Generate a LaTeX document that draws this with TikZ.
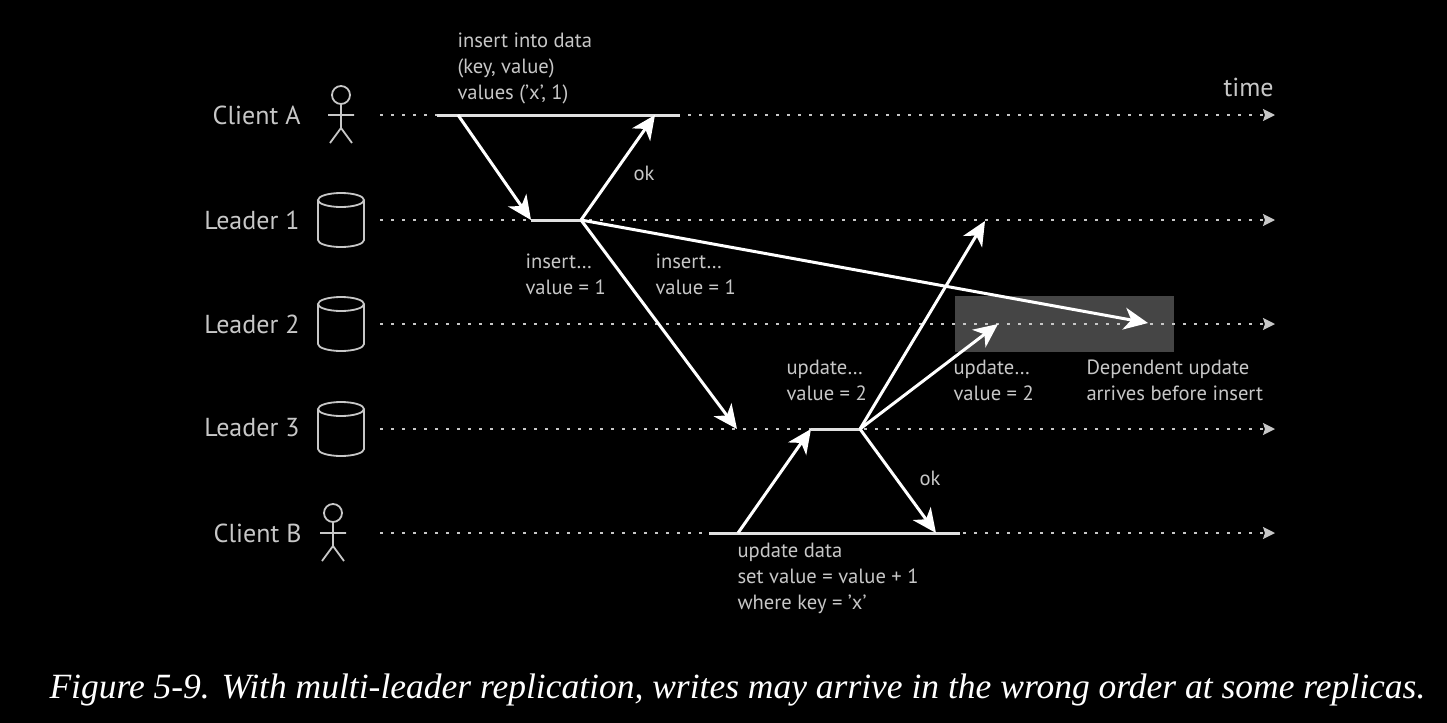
\documentclass[tikz,border=0pt]{standalone}
\usepackage{fontspec}
\setmainfont{PT Sans}
\newfontfamily\capfont{Liberation Serif}
\usetikzlibrary{arrows.meta}
\definecolor{inkgray}{gray}{0.78}
\definecolor{linegray}{gray}{0.88}
\definecolor{boxgray}{gray}{0.27}
\begin{document}
\begin{tikzpicture}[x=0.5pt,y=-0.5pt,line width=1.5pt,draw=linegray,
        >={Stealth[length=12pt,width=11pt,inset=3.5pt]},
        lbl/.style={text=inkgray,font=\fontsize{10.3}{13}\selectfont,anchor=west,inner sep=0pt,align=left},
        who/.style={text=inkgray,font=\fontsize{13}{15}\selectfont,anchor=east,inner sep=0pt},
        lane/.style={draw=inkgray,line width=0.9pt,dash pattern=on 1.5pt off 4pt,
          -{Stealth[length=6pt,width=6pt,inset=1pt]}},
        actor/.pic={
          \draw[inkgray,line width=0.9pt] (0,-20) circle [radius=9]
            (0,-11) -- (0,13) (-13,0) -- (13,0) (-11,28) -- (0,13) -- (11,28);
        },
        drum/.pic={
          \draw[inkgray,line width=0.9pt] (0,-20) ellipse [x radius=23,y radius=7]
            (-23,-20) -- (-23,20) arc [start angle=180,end angle=0,x radius=23,y radius=7] -- (23,-20);
        }]
      \path[fill=black] (0,0) rectangle (1447,723);
      \node [fill=boxgray,minimum width=109.5pt,minimum height=28pt,inner sep=0pt] (late) at (1064.5,324) {};
      \foreach \row/\ypos in {a/115,l1/220,l2/324,l3/429,b/533} {
        \coordinate (\row start) at (380,\ypos);
        \coordinate (\row end) at (1275,\ypos);
        \draw [lane] (\row start) -- (\row end);
      }
      \node [who] (clienta) at (302,115) {Client A};
      \node [who] (leader1) at (301,220) {Leader 1};
      \node [who] (leader2) at (301,324) {Leader 2};
      \node [who] (leader3) at (301,428) {Leader 3};
      \node [who] (clientb) at (303,533) {Client B};
      \pic at (341,115) {actor};
      \pic at (333,533) {actor};
      \pic at (341,220) {drum};
      \pic at (341,324) {drum};
      \pic at (341,429) {drum};
      \coordinate (a0) at (437,115);
      \coordinate (a1) at (458,115);
      \coordinate (a2) at (655,115);
      \coordinate (a3) at (680,115);
      \coordinate (p0) at (531,220);
      \coordinate (p1) at (581,220);
      \coordinate (q0) at (1148,323);
      \coordinate (r0) at (737,429);
      \coordinate (v0) at (811,429);
      \coordinate (v1) at (860,429);
      \coordinate (t0) at (985,221);
      \coordinate (t1) at (998,324);
      \coordinate (b0) at (709,533);
      \coordinate (b1) at (738,533);
      \coordinate (b2) at (936,533);
      \coordinate (b3) at (960,533);
      \draw (a0) -- (a3) (p0) -- (p1) (v0) -- (v1) (b0) -- (b3);
      \path[->,every edge/.style={draw=white}]
      (a1) edge (p0)
      (p1) edge (a2)
      (p1) edge (q0)
      (p1) edge (r0)
      (b1) edge (v0)
      (v1) edge (t0)
      (v1) edge (t1)
      (v1) edge (b2);
      \node [lbl] (insertq) at (456,68) {insert into data\\(key, value)\\values (’x’, 1)};
      \node [lbl] (oka) at (632,173) {ok};
      \node [lbl] (ins1) at (524,274) {insert…\\value = 1};
      \node [lbl] (ins2) at (654,274) {insert…\\value = 1};
      \node [lbl] (upd1) at (785,380) {update…\\value = 2};
      \node [lbl] (upd2) at (952,380) {update…\\value = 2};
      \node [lbl] (depnote) at (1085,380) {Dependent update\\arrives before insert};
      \node [lbl] (okb) at (918,478) {ok};
      \node [lbl] (updateq) at (736,578) {update data\\set value = value + 1\\where key = ’x’};
      \node [who,anchor=west] (timelbl) at (1222,87) {time};
      \node [anchor=west,inner sep=0pt,text=white,font=\capfont\itshape\fontsize{17.75}{20}\selectfont] (caption) at (48,690)
        {Figure 5-9. With multi-leader replication, writes may arrive in the wrong order at some replicas.};
    \end{tikzpicture}
\end{document}
